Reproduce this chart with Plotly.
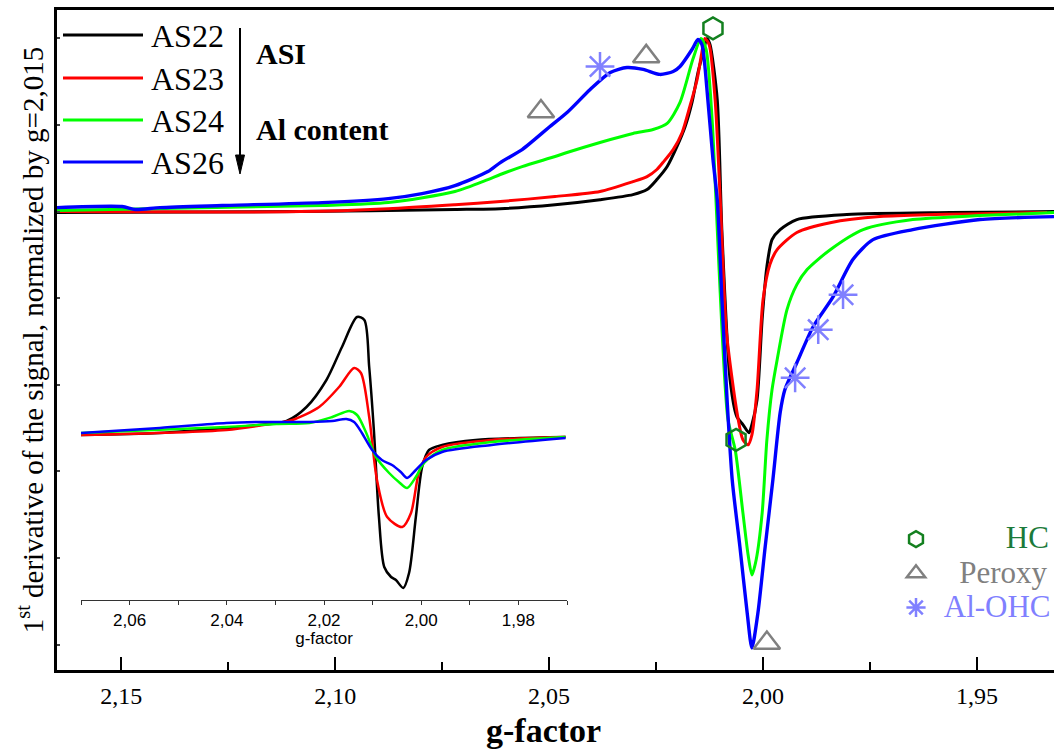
import plotly.graph_objects as go

# ---------------- main spectra (g-factor, normalized 1st derivative) ----------------
g_as22 = [2.1650, 2.1082, 2.0720, 2.0614, 2.0486, 2.0381, 2.0304, 2.0271, 2.0248, 2.0224,
          2.0201, 2.0182, 2.0166, 2.0152, 2.0140, 2.0131, 2.0124, 2.0107, 2.0096, 2.0077,
          2.0061, 2.0047, 2.0033, 2.0026, 2.0014, 2.0002, 1.9991, 1.9979, 1.9960, 1.9921,
          1.9804, 1.9563, 1.9320]
y_as22 = [-0.006, 0.000, 0.012, 0.017, 0.040, 0.069, 0.098, 0.127, 0.185, 0.260,
          0.376, 0.491, 0.630, 0.803, 0.919, 1.000, 0.965, 0.647, -0.121, -0.971,
          -1.185, -1.230, -1.277, -1.230, -1.087, -0.620, -0.318, -0.162, -0.104, -0.046,
          -0.017, -0.006, 0.000]

g_as23 = [2.1650, 2.1082, 2.0876, 2.0720, 2.0614, 2.0486, 2.0381, 2.0304, 2.0271, 2.0248,
          2.0234, 2.0210, 2.0189, 2.0171, 2.0154, 2.0143, 2.0136, 2.0126, 2.0112, 2.0100,
          2.0086, 2.0072, 2.0058, 2.0047, 2.0035, 2.0026, 2.0014, 2.0000, 1.9984, 1.9967,
          1.9921, 1.9843, 1.9727, 1.9336]
y_as23 = [0.000, 0.000, 0.017, 0.040, 0.058, 0.087, 0.116, 0.173, 0.202, 0.243,
          0.283, 0.358, 0.457, 0.607, 0.763, 0.919, 1.000, 0.965, 0.647, 0.069,
          -0.680, -0.971, -1.200, -1.318, -1.347, -1.289, -1.029, -0.509, -0.306, -0.220,
          -0.121, -0.064, -0.029, -0.006]

g_as24 = [2.1650, 2.1030, 2.0876, 2.0720, 2.0643, 2.0614, 2.0563, 2.0486, 2.0458, 2.0381,
          2.0304, 2.0257, 2.0224, 2.0194, 2.0164, 2.0145, 2.0133, 2.0119, 2.0110, 2.0096,
          2.0082, 2.0065, 2.0047, 2.0035, 2.0026, 2.0016, 2.0002, 1.9991, 1.9979, 1.9967,
          1.9944, 1.9921, 1.9897, 1.9843, 1.9766, 1.9650, 1.9493, 1.9320]
y_as24 = [0.006, 0.035, 0.052, 0.116, 0.185, 0.214, 0.260, 0.318, 0.341, 0.399,
          0.451, 0.474, 0.509, 0.630, 0.879, 1.000, 0.936, 0.532, 0.069, -0.680,
          -1.200, -1.376, -1.740, -1.980, -2.098, -2.010, -1.740, -1.318, -1.029, -0.855,
          -0.566, -0.422, -0.335, -0.220, -0.104, -0.046, -0.023, -0.006]

g_as26 = [2.1650, 2.1498, 2.1467, 2.1409, 2.1264, 2.1030, 2.0876, 2.0797, 2.0720, 2.0643,
          2.0614, 2.0563, 2.0537, 2.0498, 2.0458, 2.0404, 2.0357, 2.0318, 2.0280, 2.0241,
          2.0210, 2.0194, 2.0166, 2.0152, 2.0143, 2.0129, 2.0117, 2.0107, 2.0096, 2.0084,
          2.0072, 2.0054, 2.0037, 2.0026, 2.0012, 1.9995, 1.9977, 1.9960, 1.9949, 1.9921,
          1.9883, 1.9836, 1.9790, 1.9743, 1.9650, 1.9493, 1.9320]
y_as26 = [0.023, 0.029, 0.012, 0.023, 0.035, 0.052, 0.075, 0.104, 0.150, 0.231,
          0.283, 0.358, 0.410, 0.491, 0.572, 0.705, 0.803, 0.832, 0.821, 0.792,
          0.809, 0.838, 0.936, 0.994, 0.965, 0.647, 0.301, 0.069, -0.509, -1.087,
          -1.549, -1.936, -2.318, -2.520, -2.318, -1.936, -1.549, -1.162, -1.029, -0.873,
          -0.665, -0.491, -0.277, -0.162, -0.104, -0.046, -0.029]

# ---------------- defect markers ----------------
hc_g = [2.0117, 2.0063]
hc_y = [1.058, -1.318]
peroxy_g = [2.0519, 2.0273, 1.9991]
peroxy_y = [0.578, 0.896, -2.491]
alohc_g = [2.0381, 1.9925, 1.9871, 1.9813]
alohc_y = [0.838, -0.960, -0.682, -0.480]

# ---------------- inset spectra (raw intensity, arb. units) ----------------
ig_as22 = [2.0700, 2.0538, 2.0401, 2.0333, 2.0277, 2.0236, 2.0195, 2.0163, 2.0132, 2.0117,
           2.0107, 2.0097, 2.0087, 2.0076, 2.0062, 2.0052, 2.0037, 2.0025, 2.0011, 1.9998,
           1.9984, 1.9957, 1.9888, 1.9703]
iy_as22 = [0.00, 0.02, 0.07, 0.10, 0.14, 0.28, 0.55, 0.88, 1.18, 1.15,
           0.68, 0.02, -0.82, -1.32, -1.42, -1.45, -1.53, -1.38, -0.82, -0.32,
           -0.15, -0.10, -0.05, -0.02]

ig_as23 = [2.0700, 2.0401, 2.0298, 2.0265, 2.0210, 2.0169, 2.0138, 2.0124, 2.0107, 2.0091,
           2.0070, 2.0039, 2.0021, 2.0005, 1.9990, 1.9957, 1.9855, 1.9703]
iy_as23 = [0.00, 0.05, 0.12, 0.15, 0.28, 0.48, 0.67, 0.62, 0.18, -0.45,
           -0.82, -0.92, -0.78, -0.38, -0.22, -0.12, -0.05, -0.02]

ig_as24 = [2.0700, 2.0401, 2.0298, 2.0230, 2.0183, 2.0148, 2.0132, 2.0113, 2.0093, 2.0066,
           2.0046, 2.0029, 2.0011, 1.9994, 1.9957, 1.9855, 1.9703]
iy_as24 = [0.02, 0.08, 0.11, 0.12, 0.18, 0.24, 0.20, 0.02, -0.22, -0.38,
           -0.47, -0.53, -0.42, -0.28, -0.15, -0.07, -0.02]

ig_as26 = [2.0700, 2.0538, 2.0401, 2.0333, 2.0230, 2.0183, 2.0154, 2.0138, 2.0122, 2.0101,
           2.0081, 2.0060, 2.0042, 2.0029, 2.0011, 1.9990, 1.9957, 1.9855, 1.9703]
iy_as26 = [0.02, 0.07, 0.12, 0.13, 0.13, 0.14, 0.16, 0.13, 0.02, -0.15,
           -0.25, -0.30, -0.37, -0.43, -0.35, -0.25, -0.17, -0.10, -0.03]

series_names = ["AS22", "AS23", "AS24", "AS26"]
series_colors = ["#000000", "#ff0000", "#00ff00", "#0000ff"]
series_widths = [3, 3, 3, 3.4]

SERIF = "Liberation Serif, Times New Roman, serif"
SANS = "Liberation Sans, Arial, sans-serif"

fig = go.Figure()

main_data = [(g_as22, y_as22), (g_as23, y_as23), (g_as24, y_as24), (g_as26, y_as26)]
inset_data = [(ig_as22, iy_as22), (ig_as23, iy_as23), (ig_as24, iy_as24), (ig_as26, iy_as26)]

for (gx, gy), name, col, lw in zip(main_data, series_names, series_colors, series_widths):
    fig.add_trace(go.Scatter(x=gx, y=gy, mode="lines", name=name,
                             line=dict(color=col, width=lw, shape="spline", smoothing=0.7),
                             showlegend=False, xaxis="x", yaxis="y"))

for (gx, gy), name, col in zip(inset_data, series_names, series_colors):
    fig.add_trace(go.Scatter(x=gx, y=gy, mode="lines", name=name + " (inset)",
                             line=dict(color=col, width=2.5, shape="spline", smoothing=0.8),
                             showlegend=False, xaxis="x2", yaxis="y2"))

HC_COL = "#13801f"
PER_COL = "#808080"
AL_COL = "#8080ff"
NB = "\u00a0"


def leg_name(txt, col, pad):
    return f'<span style="font-size:31px;color:{col}">' + NB * pad + txt + '</span>'


fig.add_trace(go.Scatter(x=hc_g, y=hc_y, mode="markers", xaxis="x", yaxis="y",
                         name=leg_name("HC", "#1b7a3a", 9),
                         marker=dict(symbol="hexagon-open", size=22, color=HC_COL,
                                     line=dict(color=HC_COL, width=2.5)),
                         legend="legend2"))
fig.add_trace(go.Scatter(x=peroxy_g, y=peroxy_y, mode="markers", xaxis="x", yaxis="y",
                         name=leg_name("Peroxy", PER_COL, 3),
                         marker=dict(symbol="triangle-up-open", size=23, color=PER_COL,
                                     line=dict(color=PER_COL, width=2.5)),
                         legend="legend2"))
fig.add_trace(go.Scatter(x=alohc_g, y=alohc_y, mode="markers", xaxis="x", yaxis="y",
                         name=leg_name("Al-OHC", AL_COL, 1),
                         marker=dict(symbol="asterisk-open", size=24, color=AL_COL,
                                     line=dict(color=AL_COL, width=2.5)),
                         legend="legend2"))

W, H = 1054, 751
ML, MR, MT, MB = 57, 0, 10, 81
PW, PH = W - ML - MR, H - MT - MB


def px(xp):
    return (xp - ML) / PW


def py(yp):
    return (H - MB - yp) / PH


shapes = []
annotations = []
legend_rows = [35, 78, 120, 162]
for row, name, col in zip(legend_rows, series_names, series_colors):
    shapes.append(dict(type="line", xref="paper", yref="paper",
                       x0=px(63), x1=px(143), y0=py(row), y1=py(row),
                       line=dict(color=col, width=3)))
    annotations.append(dict(xref="paper", yref="paper", x=px(149), y=py(row + 1),
                            text=name, showarrow=False, xanchor="left", yanchor="middle",
                            font=dict(family=SERIF, size=32, color="black")))

annotations.append(dict(xref="paper", yref="paper", x=px(254), y=py(53),
                        text="<b>ASI</b>", showarrow=False, xanchor="left", yanchor="middle",
                        font=dict(family=SERIF, size=30, color="black")))
annotations.append(dict(xref="paper", yref="paper", x=px(254), y=py(130),
                        text="<b>Al content</b>", showarrow=False, xanchor="left", yanchor="middle",
                        font=dict(family=SERIF, size=30, color="black")))
annotations.append(dict(xref="paper", yref="paper", x=px(543), y=py(730),
                        text="<b>g-factor</b>", showarrow=False, xanchor="center", yanchor="middle",
                        font=dict(family=SERIF, size=34, color="black")))

# vertical arrow of the "ASI / Al content" note
shapes.append(dict(type="line", xref="paper", yref="paper",
                   x0=px(240), x1=px(240), y0=py(28), y1=py(158),
                   line=dict(color="black", width=2)))
shapes.append(dict(type="path", xref="paper", yref="paper",
                   path=f"M {px(235.5)},{py(155)} L {px(244.5)},{py(155)} L {px(240)},{py(174)} Z",
                   fillcolor="black", line=dict(color="black", width=1)))

fig.update_layout(
    width=W, height=H,
    margin=dict(l=ML, r=MR, t=MT, b=MB, pad=0, autoexpand=False),
    paper_bgcolor="white", plot_bgcolor="white",
    separators=",.",
    showlegend=True,
    legend2=dict(x=px(896), y=py(517), xanchor="left", yanchor="top",
                 bgcolor="rgba(0,0,0,0)", borderwidth=0,
                 font=dict(family=SERIF, size=24, color="black"),
                 itemsizing="trace", tracegroupgap=0),
    xaxis=dict(range=[2.165, 1.932], domain=[0, 1], anchor="y",
               showgrid=False, zeroline=False,
               showline=True, linecolor="black", linewidth=3, mirror=True,
               ticks="inside", ticklen=13, tickwidth=2, tickcolor="black",
               tick0=2.0, dtick=0.05, tickformat=".2f", ticklabelstandoff=2,
               minor=dict(ticks="inside", ticklen=8, tickwidth=2, tickcolor="black", dtick=0.025),
               tickfont=dict(family=SERIF, size=24, color="black")),
    xaxis3=dict(range=[2.165, 1.932], overlaying="x", side="top", anchor="y",
                showgrid=False, zeroline=False, showline=False,
                ticks="inside", ticklen=3, tickwidth=1.5, tickcolor="#555",
                tick0=2.0, dtick=0.025, showticklabels=False),
    yaxis=dict(range=[-2.647, 1.164], domain=[0, 1], anchor="x",
               showgrid=False, zeroline=False,
               showline=True, linecolor="black", linewidth=2.5,
               ticks="inside", ticklen=3, tickwidth=1.5, tickcolor="#444",
               tick0=0, dtick=0.5, showticklabels=False,
               title=dict(text="1<sup>st</sup> derivative of the signal, normalized by g=2,015",
                          standoff=3, font=dict(family=SERIF, size=29, color="black"))),
    xaxis2=dict(range=[2.07, 1.97], domain=[px(81), px(567)], anchor="y2",
                showgrid=False, zeroline=False,
                showline=True, linecolor="#333", linewidth=1.2,
                ticks="outside", ticklen=4, tickwidth=1, tickcolor="#333",
                tick0=2.0, dtick=0.02, tickformat=".2f",
                minor=dict(ticks="outside", ticklen=4, tickwidth=1, tickcolor="#333", dtick=0.01),
                tickfont=dict(family=SANS, size=17, color="black"),
                title=dict(text="g-factor", standoff=0,
                           font=dict(family=SANS, size=17, color="black"))),
    yaxis2=dict(range=[-1.65, 1.30], domain=[py(600), py(305)], anchor="x2",
                visible=False),
    shapes=shapes,
    annotations=annotations,
)

# remove the browser's default 8px page margin so the figure fills the window
fig.write_html("out.html",
               config={"displayModeBar": False},
               post_script="document.body.style.margin='0';"
                           "document.body.style.overflow='hidden';"
                           "document.documentElement.style.overflow='hidden';")
